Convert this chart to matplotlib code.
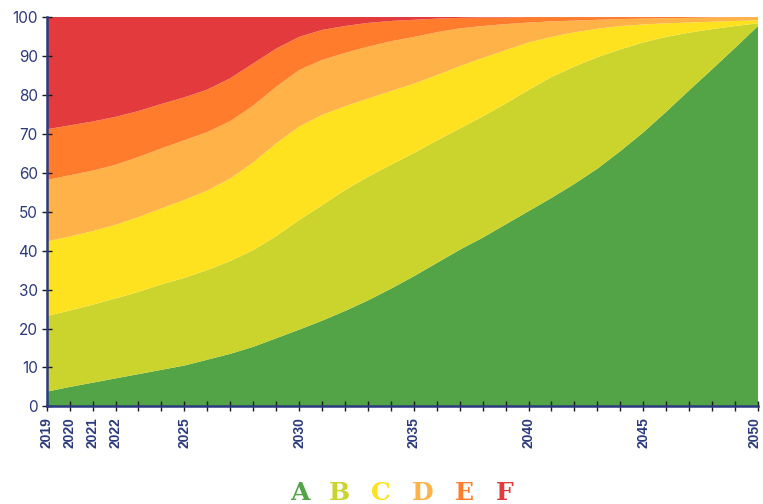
import numpy as np
import matplotlib.pyplot as plt
from matplotlib.transforms import ScaledTranslation

# share of each energy class per year (%), classes A (best) .. F (worst)
years = np.arange(2019, 2051)
class_a = [3.8, 5.0, 6.1, 7.2, 8.3, 9.4, 10.5, 12.0, 13.5, 15.3, 17.5, 19.7, 22.0, 24.5, 27.2, 30.2,
           33.4, 36.8, 40.2, 43.3, 46.7, 50.1, 53.5, 57.1, 61.0, 65.5, 70.3, 75.6, 81.1, 86.5, 92.0, 97.6]
class_b = [19.4, 19.6, 20.0, 20.5, 21.1, 21.9, 22.5, 23.0, 23.8, 24.8, 26.2, 28.1, 29.6, 31.0, 31.7, 31.8,
           31.6, 31.4, 31.1, 31.1, 31.0, 31.1, 31.0, 30.1, 28.6, 26.1, 23.1, 19.2, 14.8, 10.3, 5.6, 0.7]
class_c = [19.1, 19.0, 18.9, 18.9, 19.2, 19.5, 20.0, 20.4, 21.2, 22.5, 23.8, 24.0, 23.2, 21.5, 20.1, 18.9,
           17.8, 16.8, 16.0, 15.0, 13.7, 12.2, 10.3, 8.8, 7.3, 6.0, 4.6, 3.5, 2.6, 1.9, 1.3, 0.8]
class_d = [15.8, 15.7, 15.5, 15.4, 15.4, 15.4, 15.3, 15.0, 14.7, 14.6, 14.5, 14.5, 14.1, 13.7, 13.3, 12.8,
           12.0, 11.0, 9.7, 8.2, 6.7, 5.1, 4.0, 3.0, 2.3, 1.8, 1.5, 1.3, 1.2, 1.1, 1.0, 0.8]
class_e = [13.0, 12.8, 12.6, 12.3, 11.8, 11.4, 11.0, 10.9, 11.0, 10.8, 9.8, 8.5, 7.7, 6.9, 6.1, 5.2,
           4.4, 3.5, 2.7, 2.2, 1.7, 1.4, 1.1, 0.9, 0.7, 0.5, 0.5, 0.4, 0.3, 0.2, 0.1, 0.1]
class_f = [28.9, 27.9, 26.9, 25.7, 24.2, 22.4, 20.7, 18.7, 15.8, 12.0, 8.2, 5.2, 3.4, 2.4, 1.6, 1.1,
           0.8, 0.5, 0.3, 0.2, 0.2, 0.1, 0.1, 0.1, 0.1, 0.1, 0.0, 0.0, 0.0, 0.0, 0.0, 0.0]

labels = ["A", "B", "C", "D", "E", "F"]
colors = ["#53a447", "#cbd32d", "#fee21f", "#feb247", "#fe7c2c", "#e33b3d"]
labelled_years = [2019, 2020, 2021, 2022, 2025, 2030, 2035, 2040, 2045, 2050]

navy = "#2b3a7e"

fig = plt.figure(figsize=(7.63, 5.04), dpi=100)
ax = fig.add_axes([0.0612, 0.1935, 0.9322, 0.7734])

ax.stackplot(years, class_a, class_b, class_c, class_d, class_e, class_f,
             colors=colors, linewidth=0)

ax.set_xlim(2019, 2050)
ax.set_ylim(0, 100)

ax.set_xticks(years)
ax.set_xticklabels([str(y) if y in labelled_years else "" for y in years],
                   rotation=90, fontsize=10, fontweight="bold",
                   family="Liberation Sans", color=navy)
ax.set_yticks(np.arange(0, 101, 10))
ax.set_yticklabels([str(v) for v in range(0, 101, 10)], fontsize=11,
                   family="Inter", color=navy)
ax.tick_params(axis="both", direction="inout", length=7, width=1, color="#1a1a1a")
ax.tick_params(axis="x", pad=4)
ax.tick_params(axis="y", pad=3)

# keep the last year label inside the figure
last = ax.get_xticklabels()[-1]
last.set_transform(last.get_transform() + ScaledTranslation(-3 / 100, 0, fig.dpi_scale_trans))

for side in ["top", "right"]:
    ax.spines[side].set_visible(False)
for side in ["left", "bottom"]:
    ax.spines[side].set_color(navy)
    ax.spines[side].set_linewidth(1.8)
    ax.spines[side].set_zorder(5)

# class letters underneath the chart act as the legend
legend_x = [300, 339, 381, 423, 464, 505]
for lx, lab, col in zip(legend_x, labels, colors):
    fig.text(lx / 763, 1 - 493 / 504, lab, color=col, fontsize=18,
             fontweight="bold", family="DejaVu Serif", ha="center", va="center")

fig.savefig("out.png", dpi=100)
